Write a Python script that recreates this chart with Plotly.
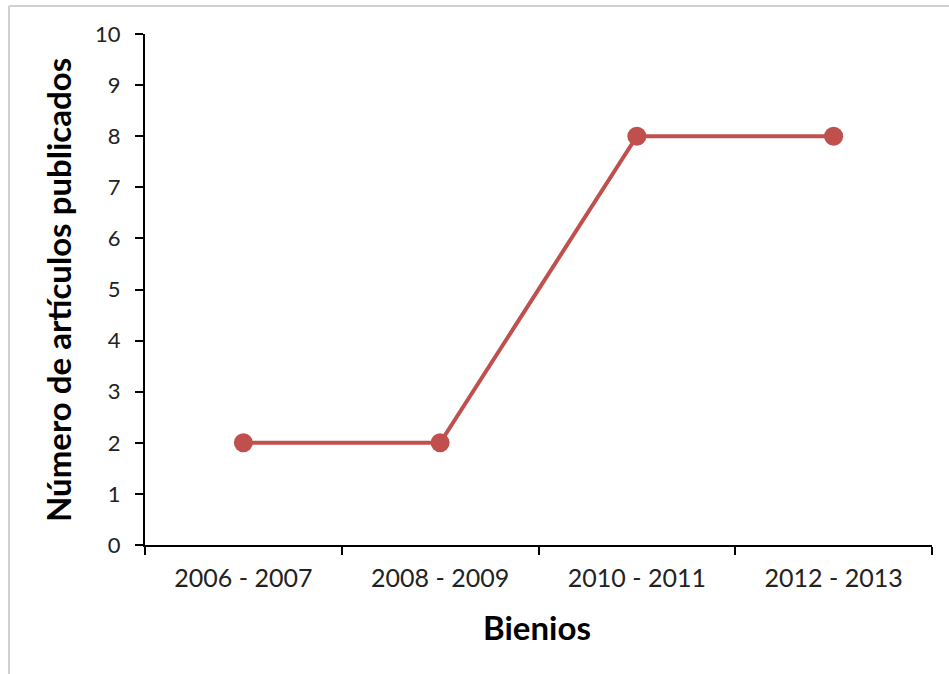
import plotly.graph_objects as go

categorias = ["2006 - 2007", "2008 - 2009", "2010 - 2011", "2012 - 2013"]
articulos = [2, 2, 8, 8]
y_ticks = list(range(0, 11))

color = "#C0504D"
font_fam = "Lato, 'Open Sans', sans-serif"

fig = go.Figure()
fig.add_trace(go.Scatter(
    x=categorias, y=articulos, mode="lines+markers",
    line=dict(color=color, width=4),
    marker=dict(color=color, size=19),
    showlegend=False, cliponaxis=False,
))

L, R, T, B = 145, 17, 34, 129
W, H = 949, 674
pw, ph = W - L - R, H - T - B

fig.update_layout(
    width=W, height=H,
    margin=dict(l=L, r=R, t=T, b=B),
    paper_bgcolor="white", plot_bgcolor="white",
    font=dict(family=font_fam, color="#222222"),
    xaxis=dict(
        type="category", range=[-0.5, 3.5],
        showline=True, linecolor="black", linewidth=2,
        ticks="outside", ticklen=8, tickwidth=2, tickcolor="black",
        tickson="boundaries", showgrid=False, zeroline=False,
        tickfont=dict(size=25, color="#222222", family=font_fam),
        ticklabelstandoff=10,
    ),
    yaxis=dict(
        range=[0, 10], tickvals=y_ticks,
        showline=True, linecolor="black", linewidth=2,
        ticks="outside", ticklen=8, tickwidth=2, tickcolor="black",
        showgrid=False, zeroline=False,
        tickfont=dict(size=22, color="#222222", family=font_fam),
        ticklabelstandoff=10,
    ),
    annotations=[
        dict(text="<b>Bienios</b>", xref="paper", yref="paper",
             x=(537 - L) / pw, y=(H - B - 627) / ph,
             xanchor="center", yanchor="middle", showarrow=False,
             font=dict(size=33, color="black", family=font_fam)),
        dict(text="<b>Número de artículos publicados</b>", xref="paper", yref="paper",
             x=(58 - L) / pw, y=(H - B - 290) / ph, textangle=-90,
             xanchor="center", yanchor="middle", showarrow=False,
             font=dict(size=33, color="black", family=font_fam)),
    ],
    shapes=[
        dict(type="line", xref="paper", yref="paper",
             x0=(9 - L) / pw, x1=(W + 5 - L) / pw,
             y0=(H - B - 6) / ph, y1=(H - B - 6) / ph,
             line=dict(color="#D0D0D0", width=2)),
        dict(type="line", xref="paper", yref="paper",
             x0=(9 - L) / pw, x1=(9 - L) / pw,
             y0=(H - B - 6) / ph, y1=(H - B - H - 5) / ph,
             line=dict(color="#D0D0D0", width=2)),
    ],
)

fig.write_html("out.html")
